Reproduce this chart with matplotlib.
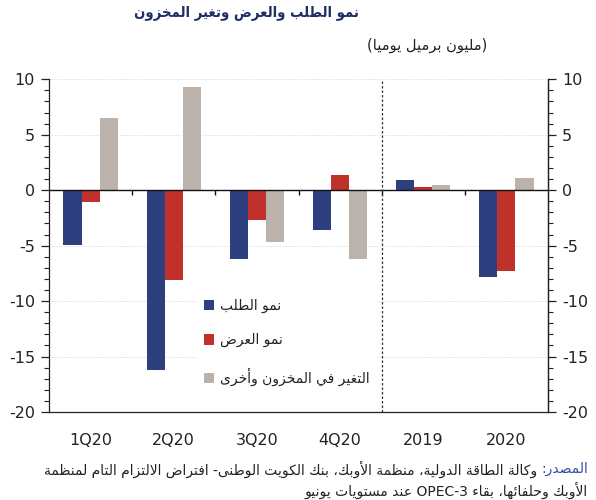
import re
import numpy as np
import matplotlib
matplotlib.use("Agg")
import matplotlib.pyplot as plt
from matplotlib.ticker import MultipleLocator

# ---------------- data ----------------
categories = ['1Q20', '2Q20', '3Q20', '4Q20', '2019', '2020']
demand = [-4.9, -16.2, -6.2, -3.6, 0.9, -7.8]
supply = [-1.1, -8.1, -2.7, 1.4, 0.3, -7.3]
stocks = [6.5, 9.3, -4.7, -6.2, 0.5, 1.1]
series_names = ['نمو الطلب', 'نمو العرض', 'التغير في المخزون وأخرى']
title_text = 'نمو الطلب والعرض وتغير المخزون'
unit_text = '(مليون برميل يوميا)'
source_label = 'المصدر:'
source_line1 = 'وكالة الطاقة الدولية، منظمة الأوبك، بنك الكويت الوطنى- افتراض الالتزام التام لمنظمة'
source_line2 = 'الأوبك وحلفائها، بقاء OPEC-3 عند مستويات يونيو'
yticks = [-20, -15, -10, -5, 0, 5, 10]

# ---------------- Arabic shaping (presentation forms) + simple bidi ----------------
_D, _R, _U = 'D', 'R', 'U'
_AR = {
    '\u0621': (0xFE80, _U), '\u0622': (0xFE81, _R), '\u0623': (0xFE83, _R),
    '\u0624': (0xFE85, _R), '\u0625': (0xFE87, _R), '\u0626': (0xFE89, _D),
    '\u0627': (0xFE8D, _R), '\u0628': (0xFE8F, _D), '\u0629': (0xFE93, _R),
    '\u062A': (0xFE95, _D), '\u062B': (0xFE99, _D), '\u062C': (0xFE9D, _D),
    '\u062D': (0xFEA1, _D), '\u062E': (0xFEA5, _D), '\u062F': (0xFEA9, _R),
    '\u0630': (0xFEAB, _R), '\u0631': (0xFEAD, _R), '\u0632': (0xFEAF, _R),
    '\u0633': (0xFEB1, _D), '\u0634': (0xFEB5, _D), '\u0635': (0xFEB9, _D),
    '\u0636': (0xFEBD, _D), '\u0637': (0xFEC1, _D), '\u0638': (0xFEC5, _D),
    '\u0639': (0xFEC9, _D), '\u063A': (0xFECD, _D), '\u0641': (0xFED1, _D),
    '\u0642': (0xFED5, _D), '\u0643': (0xFED9, _D), '\u0644': (0xFEDD, _D),
    '\u0645': (0xFEE1, _D), '\u0646': (0xFEE5, _D), '\u0647': (0xFEE9, _D),
    '\u0648': (0xFEED, _R), '\u0649': (0xFEEF, _R), '\u064A': (0xFEF1, _D),
}
_LAMALEF = {'\u0622': 0xFEF5, '\u0623': 0xFEF7, '\u0625': 0xFEF9, '\u0627': 0xFEFB}


def _shape(s):
    out = []
    n = len(s)
    i = 0
    while i < n:
        c = s[i]
        if c not in _AR:
            out.append(c)
            i += 1
            continue
        prev = s[i - 1] if i > 0 else ''
        prev_joins = prev in _AR and _AR[prev][1] == _D
        if c == '\u0644' and i + 1 < n and s[i + 1] in _LAMALEF:
            base = _LAMALEF[s[i + 1]]
            out.append(chr(base + 1 if prev_joins else base))
            i += 2
            continue
        base, t = _AR[c]
        nxt = s[i + 1] if i + 1 < n else ''
        next_joins = t == _D and nxt in _AR
        if t == _U:
            out.append(chr(base))
        elif prev_joins and next_joins:
            out.append(chr(base + 3))
        elif next_joins:
            out.append(chr(base + 2))
        elif prev_joins:
            out.append(chr(base + 1))
        else:
            out.append(chr(base))
        i += 1
    return ''.join(out)


_MIRROR = str.maketrans('()[]', ')(][')
_LTR = re.compile(r'([A-Za-z0-9]+(?:[-.][A-Za-z0-9]+)*)')


def ar(s):
    s = _shape(s)
    toks = _LTR.split(s)
    res = []
    for t in reversed(toks):
        if _LTR.fullmatch(t or ' '):
            res.append(t)
        else:
            res.append(t[::-1].translate(_MIRROR))
    return ''.join(res)


# ---------------- plotting ----------------
plt.rcParams['font.family'] = ['DejaVu Sans']
plt.rcParams['axes.unicode_minus'] = False

c_dem = '#2E3F7F'
c_sup = '#C1312B'
c_stk = '#BBB2AC'

W, H = 596, 500
fig = plt.figure(figsize=(W / 100, H / 100), dpi=100)
ax = fig.add_axes([49 / W, 1 - 412 / H, (548 - 49) / W, (412 - 79.3) / H])

x = np.arange(len(categories))
bw = 0.218
ax.bar(x - bw, demand, bw, color=c_dem, label=ar(series_names[0]), zorder=3)
ax.bar(x, supply, bw, color=c_sup, label=ar(series_names[1]), zorder=3)
ax.bar(x + bw, stocks, bw, color=c_stk, label=ar(series_names[2]), zorder=3)

ax.set_xlim(-0.5, len(categories) - 0.5)
ax.set_ylim(yticks[0], yticks[-1])
ax.set_yticks(yticks)
ax.yaxis.set_minor_locator(MultipleLocator(1))
ax.yaxis.grid(True, which='major', color='#d6d6d6', linestyle=(0, (1, 1.5)), linewidth=0.7, zorder=0)
ax.set_axisbelow(True)

ax.spines['top'].set_visible(False)
for sp in ['left', 'right', 'bottom']:
    ax.spines[sp].set_color('#222222')
    ax.spines[sp].set_linewidth(0.9)

ax.set_xticks(x)
ax.set_xticklabels(categories, fontsize=11.5, color='#222222')
ax.tick_params(axis='x', length=0, pad=15)
ax.tick_params(axis='y', which='major', direction='out', length=6, width=0.9,
               labelsize=11.5, colors='#222222', pad=4)
ax.tick_params(axis='y', which='minor', direction='out', length=3.5, width=0.8, colors='#222222')

ax2 = ax.twinx()
ax2.set_ylim(ax.get_ylim())
ax2.set_yticks(yticks)
ax2.yaxis.set_minor_locator(MultipleLocator(1))
ax2.tick_params(axis='y', which='major', direction='out', length=6, width=0.9,
                labelsize=11.5, colors='#222222', pad=4)
ax2.tick_params(axis='y', which='minor', direction='out', length=3.5, width=0.8, colors='#222222')
for sp in ['top', 'left', 'bottom']:
    ax2.spines[sp].set_visible(False)
ax2.spines['right'].set_color('#222222')
ax2.spines['right'].set_linewidth(0.9)

# zero line with group-boundary ticks
ax.axhline(0, color='#111111', linewidth=1.0, zorder=4)
bounds = x[:-1] + 0.5
ax.vlines(bounds, -0.4, 0, color='#111111', linewidth=1.0, zorder=4)
# separator between quarterly and annual data
ax.axvline(bounds[3], color='#333333', linewidth=0.9, linestyle=(0, (2, 1.6)), zorder=4)

leg = ax.legend(loc='upper left', bbox_to_anchor=((197 - 49) / 499, 1 - (292 - 79.3) / 332.7),
                frameon=True, facecolor='white', edgecolor='none', framealpha=1,
                fontsize=10, labelspacing=1.45, handlelength=0.75, handleheight=0.75,
                handletextpad=0.4, borderpad=0.5, borderaxespad=0)
leg.set_zorder(5)
for t in leg.get_texts():
    t.set_color('#222222')

# texts
fig.text(246 / W, 1 - 13 / H, ar(title_text), ha='center', va='center',
         fontsize=10.6, fontweight='bold', fontstretch='condensed', color='#1F2F66')
fig.text(487 / W, 1 - 45 / H, ar(unit_text), ha='right', va='center',
         fontsize=10.5, color='#222222')

right_x = 588 / W
src_fs = 10.0
t_lab = fig.text(right_x, 1 - 469 / H, ar(source_label), ha='right', va='center',
                 fontsize=src_fs, color='#2F4FA0')
fig.canvas.draw()
bb = t_lab.get_window_extent(fig.canvas.get_renderer())
fig.text((bb.x0 - 4) / W, 1 - 469 / H, ar(source_line1), ha='right', va='center',
         fontsize=src_fs, color='#222222')
fig.text(right_x, 1 - 490 / H, ar(source_line2), ha='right', va='center',
         fontsize=src_fs, color='#222222')

fig.savefig('out.png', dpi=100)
